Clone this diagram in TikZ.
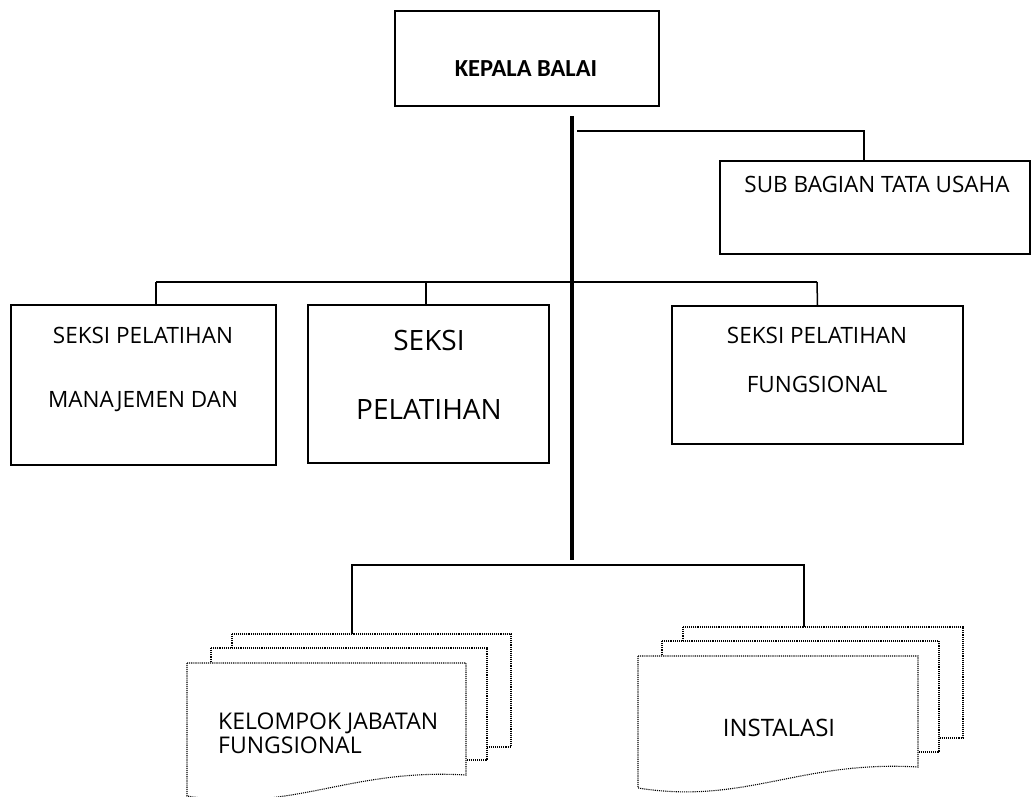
\documentclass[tikz,border=0pt]{standalone}
\usepackage{fontspec}
\setmainfont{Open Sans}
\newfontfamily\titlefont{Carlito}
\usetikzlibrary{calc}
\begin{document}
\begin{tikzpicture}[x=1pt,y=-1pt,
box/.style={draw,line width=1.5pt,inner sep=0pt},
txt/.style={inner sep=0pt,anchor=base,font=\fontsize{22.5}{26}\selectfont},
link/.style={line width=1.5pt},
sheet/.style={draw,densely dotted,line width=1.1pt,fill=white}
]
\useasboundingbox[fill=white] (0,0) rectangle (1031,796);
% boxes
\node[box,minimum width=264,minimum height=95] (kepala) at (527,58.5) {};
\node[box,minimum width=310,minimum height=93] (tatausaha) at (875,207.5) {};
\node[box,minimum width=265,minimum height=160] (manajemen) at (143.5,385) {};
\node[box,minimum width=241,minimum height=158] (teknis) at (428.5,384) {};
\node[box,minimum width=291,minimum height=138] (fungsional) at (817.5,375) {};
% texts
\node[txt,font=\fontsize{24.5}{28}\selectfont\titlefont\bfseries] (kepalatext) at (526,76) {KEPALA BALAI};
\node[txt] (tatausahatext) at (877,192) {SUB BAGIAN TATA USAHA};
\node[txt] (manajementext1) at (143,343) {SEKSI PELATIHAN};
\node[txt] (manajementext2) at (143,407) {MANAJEMEN DAN};
\node[txt,font=\fontsize{28}{32}\selectfont] (teknistext1) at (429,350) {SEKSI};
\node[txt,font=\fontsize{28}{32}\selectfont] (teknistext2) at (429,419) {PELATIHAN};
\node[txt] (fungsionaltext1) at (817,343) {SEKSI PELATIHAN};
\node[txt] (fungsionaltext2) at (817,392) {FUNGSIONAL};
% main line
\coordinate (spinetop) at (572,116);
\coordinate (spinebottom) at (572,560);
\draw[line width=4pt] (spinetop) -- (spinebottom);
\draw[link] (577,131) -| (tatausaha.north -| 864,0);
\draw[link] (156,282) -- (817,282);
\draw[link] (156,282) -- (manajemen.north -| 156,0);
\draw[link] (426,282) -- (teknis.north -| 426,0);
\draw[link] (817,282) -- (fungsional.north);
% bottom group
\coordinate (kjftop) at (352,634);
\coordinate (instalasitop) at (804,627);
\draw[link] (kjftop) |- (instalasitop |- 0,565) -- (instalasitop);
% kelompok jabatan fungsional sheets
\draw[sheet] (232,634) rectangle (511,747);
\draw[sheet] (211,648) rectangle (487,760);
\draw[sheet] (187,663) -- (466,663) -- (466,775)
  .. controls (348,768) and (294,813) .. (187,796) -- cycle;
\node[txt,anchor=base west,font=\fontsize{23}{27}\selectfont] (kjftext1) at (218,729) {KELOMPOK JABATAN};
\node[txt,anchor=base west,font=\fontsize{23}{27}\selectfont] (kjftext2) at (218,753) {FUNGSIONAL};
% instalasi sheets
\draw[sheet] (683,627) rectangle (963,738);
\draw[sheet] (662,641) rectangle (939,752);
\draw[sheet] (638,656) -- (918,656) -- (918,767)
  .. controls (800,760) and (745,805) .. (638,788) -- cycle;
\node[txt,font=\fontsize{24}{28}\selectfont] (instalasitext) at (779,736) {INSTALASI};
\end{tikzpicture}
\end{document}
